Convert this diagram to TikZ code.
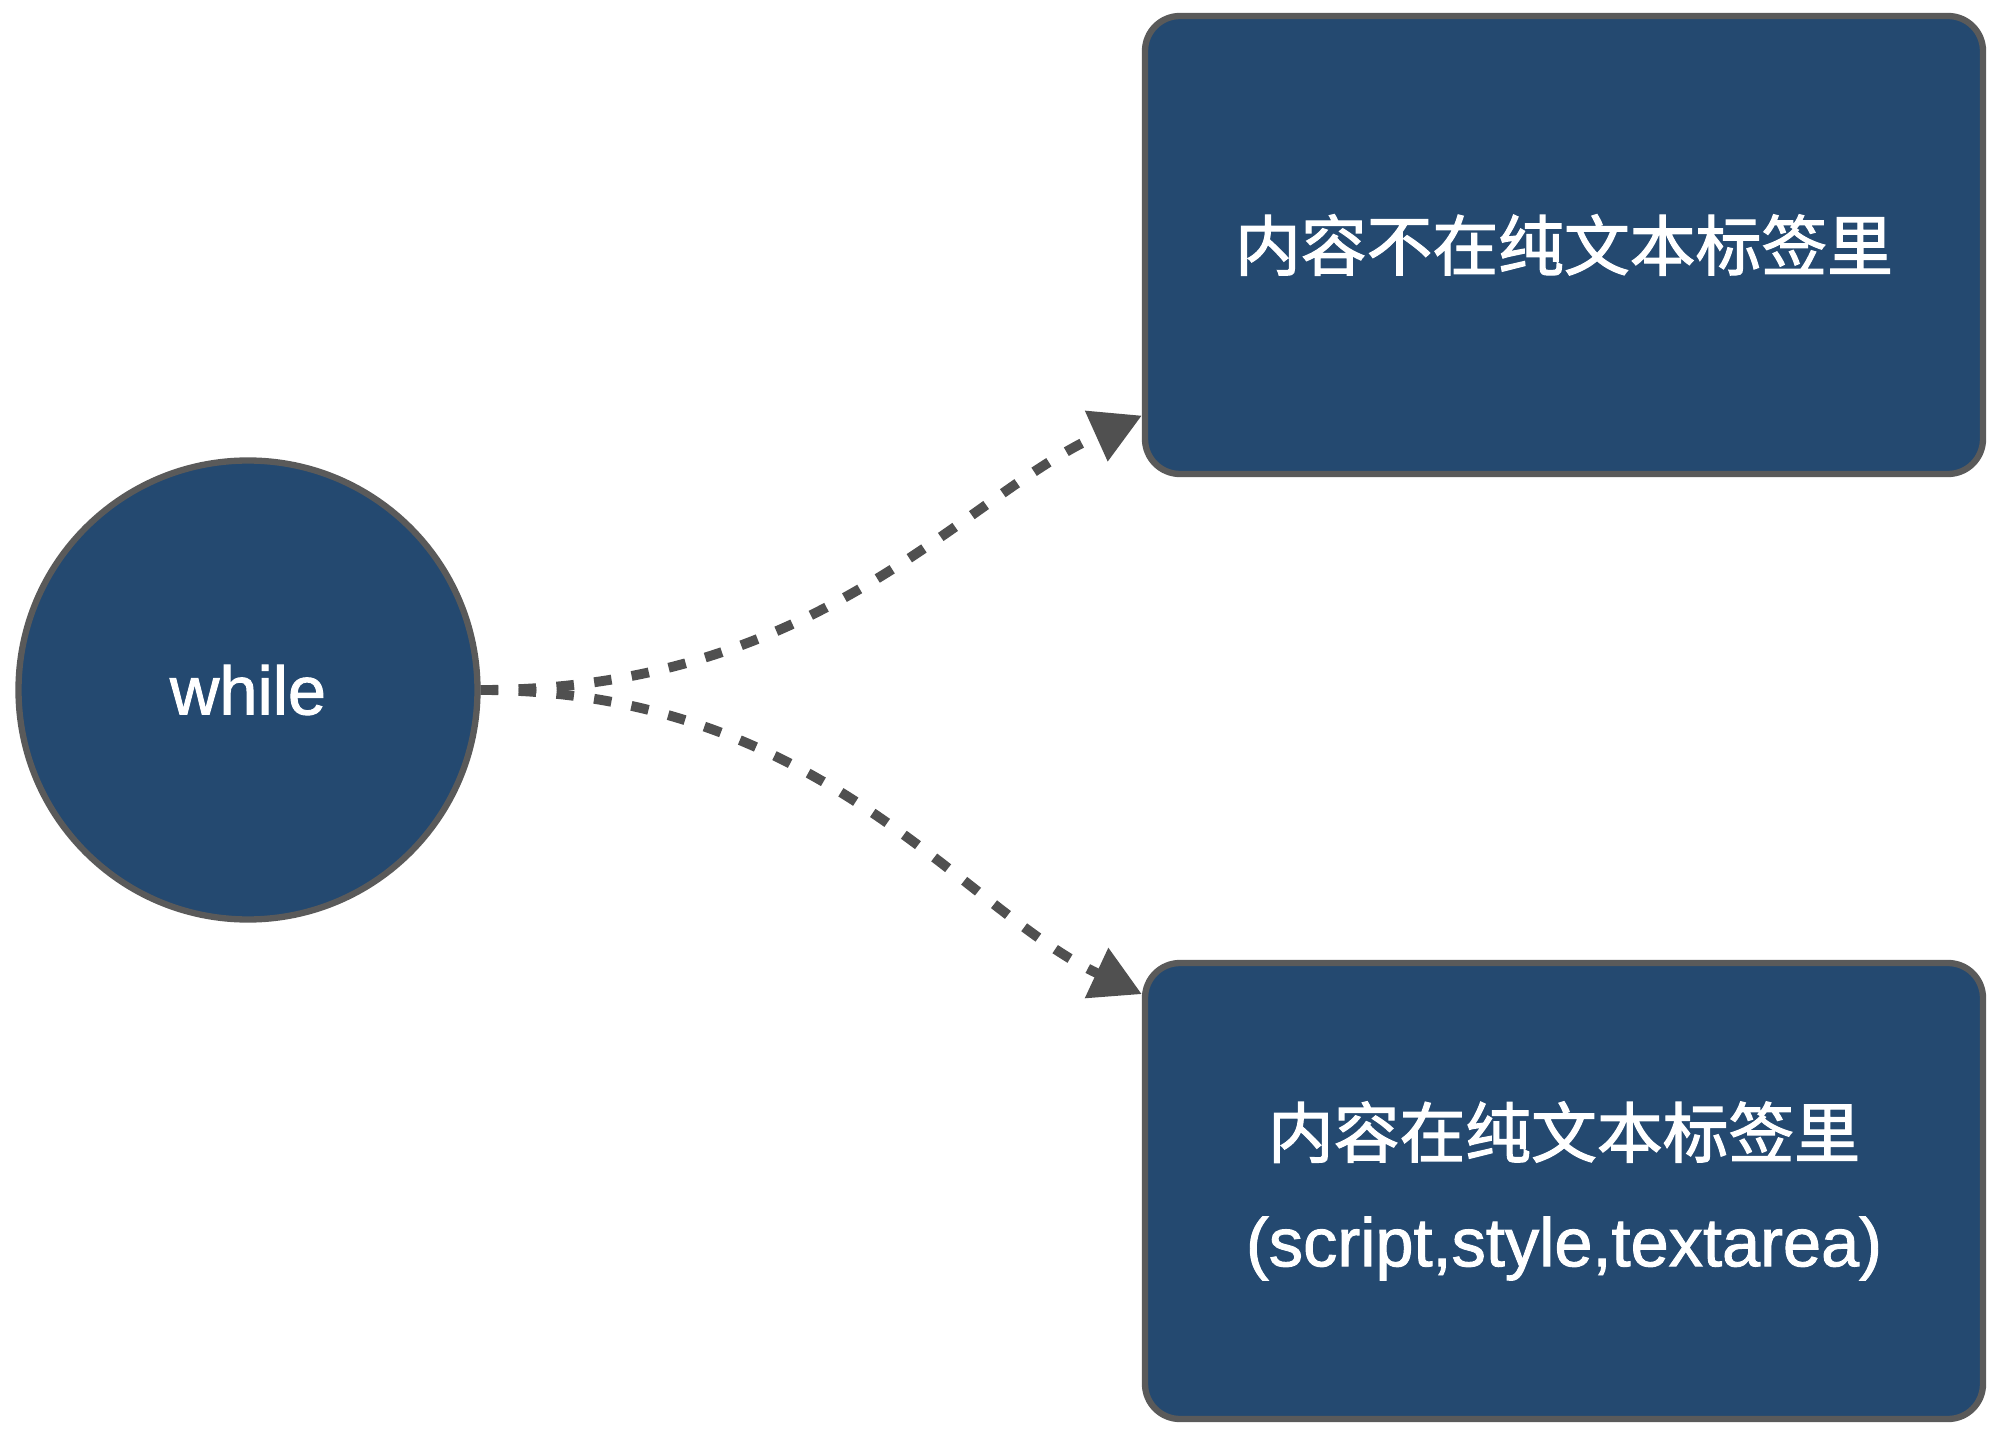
\documentclass[tikz,border=0pt]{standalone}
\usepackage{fontspec}
\setmainfont{Liberation Sans}[FakeBold=1.4]
\newfontfamily\cjk{Noto Sans CJK SC}[Scale=0.96,FakeBold=1.8]
\usepackage{xcolor}
\usepackage{tikz}
\usetikzlibrary{arrows.meta}

\definecolor{fond}{RGB}{36,73,112}
\definecolor{bord}{RGB}{90,90,90}
\definecolor{trait}{RGB}{80,80,80}

\tikzset{
	sommet/.style={circle,draw=bord,fill=fond,line width=1.8pt,minimum size=4.59cm,inner sep=0pt,text=white},
	boite/.style={rectangle,rounded corners=0.35cm,draw=bord,fill=fond,line width=1.8pt,minimum width=8.38cm,inner sep=0pt,text=white,align=center},
	fleche/.style={trait,line width=2.8pt,dash pattern=on 5pt off 5.8pt,-{Triangle[length=5mm,width=5.3mm]}}
}

\begin{document}
\begin{tikzpicture}[font=\fontsize{19.5}{31}\selectfont]
\useasboundingbox (0,0) rectangle (20,-14.38);
%cercle de gauche
\node[sommet] (W) at (2.48,-6.90) {while};
%boites de droite
\node[boite,minimum height=4.58cm] (U) at (15.64,-2.45) {\cjk 内容不在纯文本标签里};
\node[boite,minimum height=4.56cm] (L) at (15.64,-11.91) {{\cjk 内容在纯文本标签里}\\(script,style,textarea)};
%fleches
\draw[fleche] (W.east) .. controls +(3.39,0) and +(-1.8,-0.81) .. (U.202.7);
\draw[fleche] (W.east) .. controls +(3.39,0) and +(-1.8,0.84) .. (L.155.2);
\end{tikzpicture}
\end{document}
